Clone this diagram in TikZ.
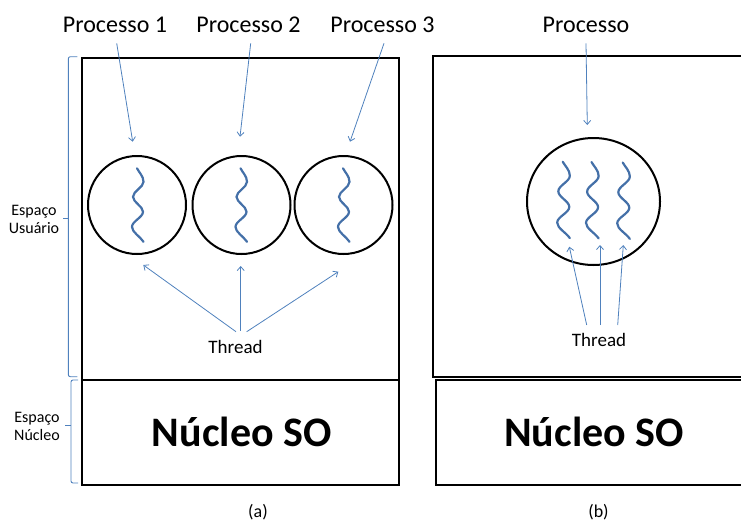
\documentclass[tikz,border=0pt]{standalone}
\usepackage{fontspec}
\setmainfont{Carlito}
\usetikzlibrary{arrows.meta,shapes.geometric}
\definecolor{arrowblue}{RGB}{79,129,189}
\definecolor{waveblue}{RGB}{68,112,168}
\tikzset{
  pics/wave/.style={code={
    \draw[wavepath] (0,0) .. controls (2,4) and (6.5,8) .. (6.5,13.5)
      .. controls (6.5,19) and (-4,23) .. (-4,28.5)
      .. controls (-4,34) and (6,38) .. (6,43.5)
      .. controls (6,49) and (-5,53) .. (-5,58.5)
      .. controls (-5,64) and (3,68) .. (6.5,73.5);
  }}
}
\begin{document}
\begin{tikzpicture}[x=1pt,y=-1pt,
  box/.style={draw=black, line width=2pt},
  proc/.style={circle, draw=black, line width=2pt, minimum size=98pt, inner sep=0pt},
  arr/.style={draw=arrowblue, line width=0.8pt, -{Straight Barb[length=4pt,width=7pt]}},
  brace/.style={draw=arrowblue, line width=0.9pt, rounded corners=2pt},
  wavepath/.style={draw=waveblue, line width=2.2pt, line cap=round},
  plbl/.style={font=\fontsize{24}{28}\selectfont, anchor=base, inner sep=0pt},
  tlbl/.style={font=\fontsize{19}{22}\selectfont, anchor=base, inner sep=0pt},
  side/.style={font=\fontsize{16}{18}\selectfont, align=center, inner sep=0pt},
  nucleo/.style={font=\fontsize{42}{48}\selectfont\bfseries, anchor=base, inner sep=0pt},
  captext/.style={font=\fontsize{18}{21}\selectfont, anchor=base, inner sep=0pt}
]
\path[use as bounding box] (0,0) rectangle (741,522);
\clip (0,0) rectangle (741,522);

% boxes
\draw[box] (82,58) rectangle (399,380);
\draw[box] (82,380) rectangle (399,485);
\draw[box] (433,56) rectangle (746,377);
\draw[box] (436,380) rectangle (746,485);

% processes
\node[proc] (c1) at (137,205) {};
\node[proc] (c2) at (241.5,205) {};
\node[proc] (c3) at (343.5,205) {};
\node[ellipse, draw=black, line width=2pt, minimum width=133pt, minimum height=127pt, inner sep=0pt] (c4) at (593.5,201.5) {};

% threads
\pic at (137,168.3) {wave};
\pic at (240.5,168.3) {wave};
\pic at (343,168.3) {wave};
\pic[xscale=1.1, yscale=1.04] at (562.7,161.7) {wave};
\pic[xscale=1.1, yscale=1.04] at (591.5,162) {wave};
\pic[xscale=1.1, yscale=1.04] at (622.7,162.5) {wave};

% labels
\node[plbl] (p1) at (115,32.5) {Processo 1};
\node[plbl] (p2) at (248.5,32.5) {Processo 2};
\node[plbl] (p3) at (382.5,32.5) {Processo 3};
\node[plbl] (p4) at (586,32.5) {Processo};
\node[tlbl] (t1) at (235.5,353) {Thread};
\node[tlbl] (t2) at (599,346.7) {Thread};
\node[nucleo] (n1) at (241.7,446.7) {Núcleo SO};
\node[nucleo] (n2) at (594,446.7) {Núcleo SO};
\node[captext] (ca) at (258,517) {(a)};
\node[captext] (cb) at (598.5,517) {(b)};
\node[side] (eu) at (34,219.5) {Espaço\\Usuário};
\node[side] (en) at (37,426) {Espaço\\Núcleo};

% arrow end points
\coordinate (p1s) at (116.7,43.3); \coordinate (p1e) at (132.7,141.7);
\coordinate (p2s) at (250.7,43.3); \coordinate (p2e) at (240,136.7);
\coordinate (p3s) at (384,43.3);   \coordinate (p3e) at (350,141.7);
\coordinate (p4s) at (586,43.3);   \coordinate (p4e) at (587.3,125);
\draw[arr] (p1s) -- (p1e);
\draw[arr] (p2s) -- (p2e);
\draw[arr] (p3s) -- (p3e);
\draw[arr] (p4s) -- (p4e);

\coordinate (t1a) at (236,331.7);   \coordinate (t1ae) at (143.3,265);
\coordinate (t1b) at (240.7,330.7); \coordinate (t1be) at (240.7,266);
\coordinate (t1c) at (246.7,331.7); \coordinate (t1ce) at (338.3,271.7);
\draw[arr] (t1a) -- (t1ae);
\draw[arr] (t1b) -- (t1be);
\draw[arr] (t1c) -- (t1ce);

\coordinate (t2a) at (586.7,325); \coordinate (t2ae) at (569.3,246.7);
\coordinate (t2b) at (600,325);   \coordinate (t2be) at (600,245);
\coordinate (t2c) at (617.7,325); \coordinate (t2ce) at (623.3,245);
\draw[arr] (t2a) -- (t2ae);
\draw[arr] (t2b) -- (t2be);
\draw[arr] (t2c) -- (t2ce);

% braces
\coordinate (bu1) at (77.3,56.7); \coordinate (bu2) at (68.3,376.7); \coordinate (bu3) at (77.3,376.7);
\draw[brace] (bu1) -| (bu2) -- (bu3);
\coordinate (bum) at (68.3,218.3); \coordinate (buk) at (63.3,218.3);
\draw[brace] (bum) -- (buk);
\coordinate (bl1) at (78,380); \coordinate (bl2) at (71,483); \coordinate (bl3) at (78,483);
\draw[brace] (bl1) -| (bl2) -- (bl3);
\coordinate (blm) at (71,425); \coordinate (blk) at (65,425);
\draw[brace] (blm) -- (blk);
\end{tikzpicture}
\end{document}
